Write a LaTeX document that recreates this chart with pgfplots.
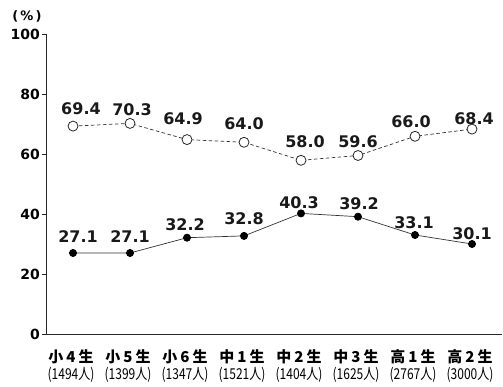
\documentclass[border=0pt]{standalone}
\usepackage{pgfplots}
\usepackage{pgfplotstable}
\pgfplotsset{compat=1.18}
\usepackage{fontspec}
\setmainfont{DejaVu Sans}
\newfontfamily\cjk{Noto Sans CJK JP}

% grade, share (%), label offsets (bp)
\pgfplotstableread{
x y dx dy
0 69.4 8 17
1 70.3 2 14
2 64.9 -4 21
3 64.0 0 19
4 58.0 4 19
5 59.6 0 14
6 66.0 -4 15
7 68.4 2 10
}\dashdata
\pgfplotstableread{
x y dx dy
0 27.1 5 16
1 27.1 0 16
2 32.2 -2 13
3 32.8 0 17
4 40.3 -2 11
5 39.2 1 13
6 33.1 -1 12
7 30.1 0 10
}\soliddata

% two-line category label: grade, then number of respondents
\newcommand\lab[3]{\begin{tabular}{@{}c@{}}{\fontsize{15bp}{16bp}\selectfont\cjk\bfseries #1\hspace{3bp}#2\hspace{3bp}生}\\[1bp]\scalebox{0.8}[1]{\fontsize{15bp}{15bp}\selectfont\cjk(#3人)}\end{tabular}}

\begin{document}
\begin{tikzpicture}
\begin{axis}[
  scale only axis, width=456bp, height=300bp,
  xmin=-0.474, xmax=7.526, ymin=0, ymax=100,
  axis x line=bottom, axis y line=left,
  axis line style={-, line width=0.8bp, black!85},
  clip=false,
  ytick={0,20,40,60,80,100},
  tick align=outside, major tick length=4bp,
  y tick style={line width=0.8bp, black!85},
  yticklabel style={font=\fontsize{14bp}{14bp}\selectfont\bfseries, inner sep=2bp},
  /pgf/number format/assume math mode=true,
  xtick={0,...,7},
  x tick style={draw=none},
  xticklabels={{\lab{小}{4}{1494}},{\lab{小}{5}{1399}},{\lab{小}{6}{1347}},{\lab{中}{1}{1521}},{\lab{中}{2}{1404}},{\lab{中}{3}{1625}},{\lab{高}{1}{2767}},{\lab{高}{2}{3000}}},
  xticklabel style={anchor=north, inner sep=0pt, yshift=-11bp, xshift=-2bp},
  nodes near coords={\pgfmathprintnumber[fixed,fixed zerofill,precision=1,assume math mode=true]{\pgfplotspointmeta}},
  visualization depends on={\thisrow{dx}\as\dx},
  visualization depends on={\thisrow{dy}\as\dy},
  every node near coord/.append style={font=\fontsize{16bp}{16bp}\selectfont\bfseries, anchor=center, inner sep=0pt, xshift=\dx pt, yshift=\dy pt, text=black!90},
]
\addplot[black!80, line width=0.7bp, dash pattern=on 3.5bp off 2.5bp,
  mark=*, mark size=5bp, mark options={solid, fill=white, draw=black!85, line width=0.8bp}]
  table[x=x, y=y] {\dashdata};
\addplot[black!80, line width=0.7bp,
  mark=*, mark size=3.6bp, mark options={fill=black, draw=black}]
  table[x=x, y=y] {\soliddata};
\node[font=\fontsize{13bp}{13bp}\selectfont\bfseries, inner sep=0pt] at (rel axis cs:0,1) [xshift=-19bp, yshift=17.8bp] {(\,\%\,)};
\end{axis}
\pgfresetboundingbox
\path[use as bounding box] (-46bp,-52.7bp) rectangle (457bp,334.3bp);
\end{tikzpicture}
\end{document}
